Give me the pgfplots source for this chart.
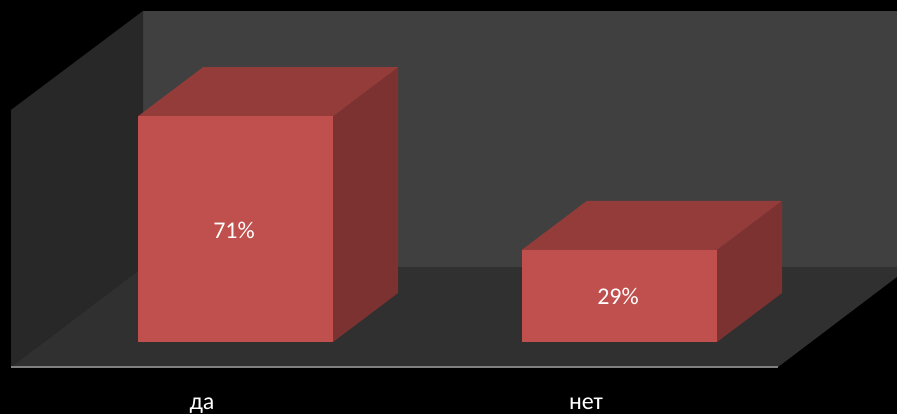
\documentclass[border=0pt]{standalone}
\usepackage{pgfplots}
\pgfplotsset{compat=1.18}
\usepackage{fontspec}
\setmainfont{Carlito}
\definecolor{backwall}{HTML}{404040}
\definecolor{leftwall}{HTML}{282828}
\definecolor{floorc}{HTML}{303030}
\definecolor{floorline}{HTML}{808080}
\definecolor{barfront}{HTML}{C0504D}
\definecolor{bartop}{HTML}{943C3A}
\definecolor{barside}{HTML}{7B3230}
\begin{document}
\begin{tikzpicture}
\begin{axis}[
  width=897bp, height=414bp, scale only axis,
  xmin=0, xmax=897, ymin=-22.64, ymax=107.55,
  hide axis,
]
\fill[black] (rel axis cs:0,0) rectangle (rel axis cs:1,1);
% walls and floor (x in px, y in percent)
\addplot[draw=none, fill=backwall] coordinates {(143,23.58) (897,23.58) (897,104.09) (143,104.09)} -- cycle;
\addplot[draw=none, fill=leftwall] coordinates {(11,-7.86) (143,23.58) (143,104.09) (11,72.96)} -- cycle;
\addplot[draw=none, fill=floorc] coordinates {(11,-7.86) (778,-7.86) (910,23.58) (143,23.58)} -- cycle;
\addplot[floorline, line width=1.5bp] coordinates {(11,-7.86) (778,-7.86)};
% bar 1: 71
\addplot[draw=none, fill=barside] coordinates {(333,0) (398,15.41) (398,86.41) (333,71)} -- cycle;
\addplot[draw=none, fill=bartop] coordinates {(138,71) (333,71) (398,86.41) (203,86.41)} -- cycle;
\addplot[draw=none, fill=barfront] coordinates {(138,0) (333,0) (333,71) (138,71)} -- cycle;
% bar 2: 29
\addplot[draw=none, fill=barside] coordinates {(717,0) (782,15.41) (782,44.41) (717,29)} -- cycle;
\addplot[draw=none, fill=bartop] coordinates {(522,29) (717,29) (782,44.41) (587,44.41)} -- cycle;
\addplot[draw=none, fill=barfront] coordinates {(522,0) (717,0) (717,29) (522,29)} -- cycle;
% labels
\node[white, font=\fontsize{24bp}{28bp}\selectfont] at (axis cs:234,35.06) {71\%};
\node[white, font=\fontsize{24bp}{28bp}\selectfont] at (axis cs:618,14.31) {29\%};
\node[white, anchor=base, overlay, font=\fontsize{24bp}{28bp}\selectfont] at (axis cs:202,-21.07) {да};
\node[white, anchor=base, overlay, font=\fontsize{24bp}{28bp}\selectfont] at (axis cs:586,-21.07) {нет};
\end{axis}
\end{tikzpicture}
\end{document}
